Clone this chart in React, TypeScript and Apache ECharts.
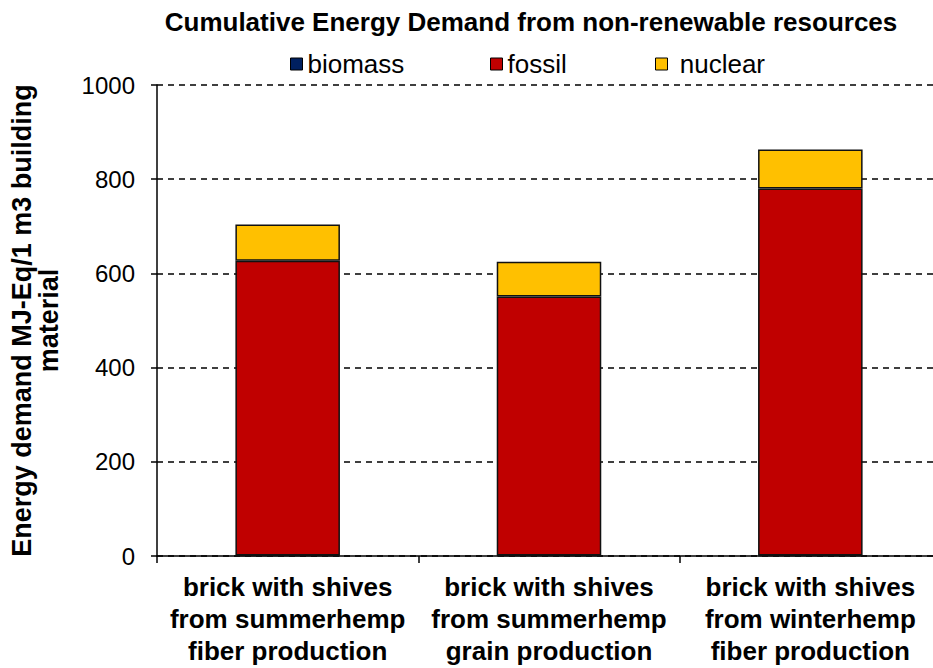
import React, { useEffect, useRef } from "react";
import * as echarts from "echarts";

const categories = [
  "brick with shives\nfrom summerhemp\nfiber production",
  "brick with shives\nfrom summerhemp\ngrain production",
  "brick with shives\nfrom winterhemp\nfiber production",
];
const biomass = [1, 1, 1];
const fossil = [626, 550, 779];
const nuclear = [77, 74, 83];
const yTicks = { min: 0, max: 1000, interval: 200 };

const FONT = "'Liberation Sans', Arial, sans-serif";

export default function App() {
  const ref = useRef<HTMLDivElement>(null);
  useEffect(() => {
    if (!ref.current) return;
    const chart = echarts.init(ref.current, undefined, { renderer: "svg" });
    const barStyle = (color: string) => ({
      color,
      borderColor: "#111",
      borderWidth: 1.5,
    });
    const legendCommon = {
      top: 46,
      itemWidth: 12,
      itemHeight: 12,
      icon: "rect",
      textStyle: { fontFamily: FONT, fontSize: 26, color: "#000" },
      selectedMode: false as const,
    };
    chart.setOption({
      animation: false,
      title: {
        text: "Cumulative Energy Demand from non-renewable resources",
        left: 526,
        textAlign: "center",
        top: 4,
        textStyle: { fontFamily: FONT, fontSize: 26, fontWeight: "bold", color: "#000" },
      },
      legend: [
        { ...legendCommon, left: 285, data: [{ name: "biomass", itemStyle: { borderColor: "#000", borderWidth: 1 } }] },
        { ...legendCommon, left: 485, data: [{ name: "fossil", itemStyle: { borderColor: "#000", borderWidth: 1 } }] },
        {
          ...legendCommon,
          left: 650,
          formatter: " {name}",
          data: [{ name: "nuclear", itemStyle: { borderColor: "#000", borderWidth: 1 } }],
        },
      ],
      grid: { left: 157, top: 85, width: 784, height: 471, containLabel: false, outerBoundsMode: "none" },
      xAxis: {
        type: "category",
        data: categories,
        axisLine: { show: true, lineStyle: { color: "#000", width: 1.5 } },
        axisTick: { show: true, length: 7, lineStyle: { color: "#000", width: 1.5 } },
        axisLabel: {
          interval: 0,
          margin: 15,
          lineHeight: 32,
          fontFamily: FONT,
          fontSize: 26,
          fontWeight: "bold",
          color: "#000",
        },
      },
      yAxis: {
        type: "value",
        min: yTicks.min,
        max: yTicks.max,
        interval: yTicks.interval,
        name: "Energy demand MJ-Eq/1 m3 building\nmaterial",
        nameLocation: "middle",
        nameRotate: 90,
        nameGap: 95,
        nameTextStyle: {
          fontFamily: FONT,
          fontSize: 27,
          fontWeight: "bold",
          color: "#000",
          lineHeight: 27,
          align: "center",
        },
        axisLine: { show: true, lineStyle: { color: "#000", width: 1.5 } },
        axisTick: { show: true, inside: false, length: 6, lineStyle: { color: "#000", width: 1.5 } },
        axisLabel: {
          margin: 22,
          fontFamily: FONT,
          fontSize: 24,
          color: "#000",
          formatter: (v: number) => String(v),
        },
        splitLine: { show: true, lineStyle: { color: "#000", type: [6, 5], width: 1.5 } },
      },
      series: [
        { name: "biomass", type: "bar", stack: "a", barWidth: "40%", data: biomass, itemStyle: barStyle("#002060") },
        { name: "fossil", type: "bar", stack: "a", barWidth: "40%", data: fossil, itemStyle: barStyle("#C00000") },
        { name: "nuclear", type: "bar", stack: "a", barWidth: "40%", data: nuclear, itemStyle: barStyle("#FFC000") },
      ],
    });
    return () => chart.dispose();
  }, []);
  return (
    <div
      ref={ref}
      style={{ position: "fixed", left: 0, top: 0, width: 933, height: 668, background: "#fff" }}
    />
  );
}
